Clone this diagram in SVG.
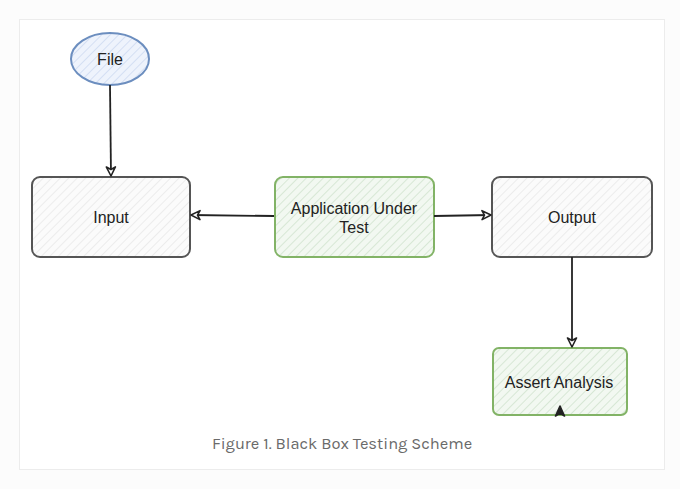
<svg xmlns="http://www.w3.org/2000/svg" width="680" height="489" viewBox="0 0 680 489">
<defs>
<pattern id="hGray" width="6" height="6" patternUnits="userSpaceOnUse" patternTransform="rotate(45)">
<rect width="6" height="6" fill="#fbfbfb"/>
<line x1="0" y1="0" x2="0" y2="6" stroke="#e2e2e2" stroke-width="1.2"/>
</pattern>
<pattern id="hGreen" width="6" height="6" patternUnits="userSpaceOnUse" patternTransform="rotate(45)">
<rect width="6" height="6" fill="#f2f8f1"/>
<line x1="0" y1="0" x2="0" y2="6" stroke="#c9dfc6" stroke-width="1.3"/>
</pattern>
<pattern id="hBlue" width="6" height="6" patternUnits="userSpaceOnUse" patternTransform="rotate(45)">
<rect width="6" height="6" fill="#eef3fc"/>
<line x1="0" y1="0" x2="0" y2="6" stroke="#c6d5ef" stroke-width="1.3"/>
</pattern>
<marker id="arr" markerWidth="12" markerHeight="12" refX="10" refY="6" orient="auto" markerUnits="userSpaceOnUse">
<path d="M1,1.5 L10,6 L1,10.5 L3.5,6 Z" fill="#ffffff" stroke="#222" stroke-width="1.6" stroke-linejoin="round"/>
</marker>
</defs>
<style>
.lbl{font-family:"Liberation Sans",Arial,sans-serif;font-size:16px;fill:#222;text-anchor:middle}
.gray{fill:url(#hGray);stroke:#555;stroke-width:2}
.green{fill:url(#hGreen);stroke:#82b366;stroke-width:2}
.edge{fill:none;stroke:#222;stroke-width:1.8;marker-end:url(#arr)}
.cap{font-family:"Karla","Noto Sans","Open Sans",sans-serif;font-size:16.5px;fill:#6a6a6a}
</style>
<rect x="0" y="0" width="680" height="489" fill="#fcfcfc"/>
<rect x="19.5" y="19.5" width="645" height="450" fill="#ffffff" stroke="#ececec" stroke-width="1"/>

<g id="file">
<ellipse cx="110" cy="59" rx="39" ry="26" fill="url(#hBlue)" stroke="#6c8ebf" stroke-width="2"/>
<text class="lbl" x="110" y="64.5">File</text>
</g>
<g id="input">
<rect class="gray" x="32" y="177" width="158" height="80" rx="8"/>
<text class="lbl" x="111" y="222.5">Input</text>
</g>
<g id="aut">
<rect class="green" x="275" y="177" width="159" height="80" rx="8"/>
<text class="lbl" x="354" y="214">Application Under</text>
<text class="lbl" x="354" y="233">Test</text>
</g>
<g id="output">
<rect class="gray" x="492" y="177" width="160" height="80" rx="8"/>
<text class="lbl" x="572" y="222.5">Output</text>
</g>
<g id="assert">
<rect class="green" x="493" y="348" width="134" height="67" rx="6"/>
<text class="lbl" x="559" y="388">Assert Analysis</text>
</g>

<g id="connectors">
<path class="edge" d="M110,85 L111,176"/>
<path class="edge" d="M274,216 L191,215"/>
<path class="edge" d="M434,216 L491,215"/>
<path class="edge" d="M572,257 L572,347"/>
<path d="M555.5,416 L560,406 L564.5,416 L560,413 Z" fill="#222" stroke="#222" stroke-width="1.6" stroke-linejoin="round"/>
</g>

<text class="cap" x="212" y="449">Figure 1. Black Box Testing Scheme</text>
</svg>
